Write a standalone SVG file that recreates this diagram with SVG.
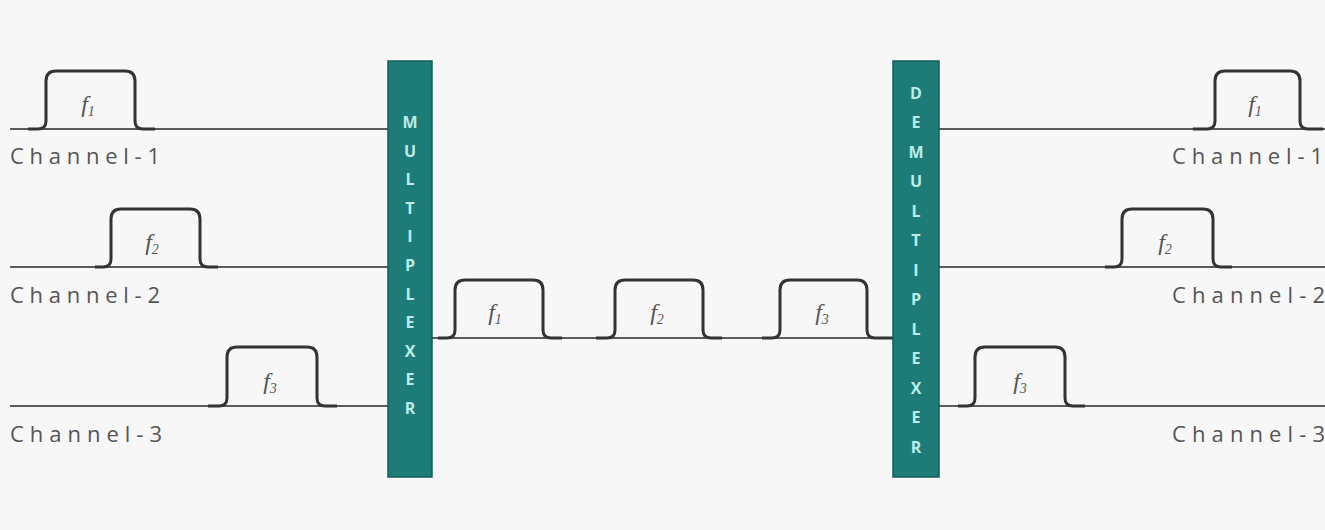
<svg xmlns="http://www.w3.org/2000/svg" width="1325" height="530" viewBox="0 0 1325 530">
<defs>
<style>
.bg{fill:#f7f7f7}
.line{stroke:#5a5a5a;stroke-width:2;fill:none}
.pulse{stroke:#333;stroke-width:3;fill:none;stroke-linejoin:round}
.bar{fill:#1d7c78;stroke:#155e5b;stroke-width:1.5}
.bl{font-family:"Open Sans","Liberation Sans",Arial,sans-serif;font-weight:bold;font-size:16px;fill:#bdece8;text-anchor:middle}
.ch{font-family:"Open Sans","Liberation Sans",Arial,sans-serif;font-size:22px;fill:#555}
.f{font-family:"Liberation Serif","Times New Roman",serif;font-style:italic;font-size:24px;fill:#555;text-anchor:middle}
.sub{font-size:14px}
</style>
</defs>
<rect class="bg" x="0" y="0" width="1325" height="530"/>
<g id="connectors">
<line class="line" x1="10" y1="129" x2="388" y2="129"/>
<line class="line" x1="10" y1="267" x2="388" y2="267"/>
<line class="line" x1="10" y1="406" x2="388" y2="406"/>
<line class="line" x1="432" y1="338" x2="893" y2="338"/>
<line class="line" x1="939" y1="129" x2="1325" y2="129"/>
<line class="line" x1="939" y1="267" x2="1325" y2="267"/>
<line class="line" x1="939" y1="406" x2="1325" y2="406"/>
</g>
<g id="pulse-in-1">
<path class="pulse" d="M28,129 L38,129 Q46,129 46,121 L46,81 Q46,71 56,71 L125,71 Q135,71 135,81 L135,121 Q135,129 143,129 L155,129"/>
<text class="f" x="88" y="112">f<tspan class="sub" dy="4">1</tspan></text>
</g>
<g id="pulse-in-2">
<path class="pulse" d="M95,267 L103,267 Q111,267 111,259 L111,219 Q111,209 121,209 L190,209 Q200,209 200,219 L200,259 Q200,267 208,267 L218,267"/>
<text class="f" x="152" y="250">f<tspan class="sub" dy="4">2</tspan></text>
</g>
<g id="pulse-in-3">
<path class="pulse" d="M208,406 L219,406 Q227,406 227,398 L227,357 Q227,347 237,347 L307,347 Q317,347 317,357 L317,398 Q317,406 325,406 L337,406"/>
<text class="f" x="270" y="389">f<tspan class="sub" dy="4">3</tspan></text>
</g>
<g id="pulse-mid-1">
<path class="pulse" d="M438,338 L447,338 Q455,338 455,330 L455,290 Q455,280 465,280 L533,280 Q543,280 543,290 L543,330 Q543,338 551,338 L562,338"/>
<text class="f" x="495" y="320">f<tspan class="sub" dy="4">1</tspan></text>
</g>
<g id="pulse-mid-2">
<path class="pulse" d="M596,338 L607,338 Q615,338 615,330 L615,290 Q615,280 625,280 L693,280 Q703,280 703,290 L703,330 Q703,338 711,338 L722,338"/>
<text class="f" x="657" y="320">f<tspan class="sub" dy="4">2</tspan></text>
</g>
<g id="pulse-mid-3">
<path class="pulse" d="M762,338 L772,338 Q780,338 780,330 L780,290 Q780,280 790,280 L857,280 Q867,280 867,290 L867,330 Q867,338 875,338 L893,338"/>
<text class="f" x="822" y="320">f<tspan class="sub" dy="4">3</tspan></text>
</g>
<g id="pulse-out-1">
<path class="pulse" d="M1193,129 L1207,129 Q1215,129 1215,121 L1215,81 Q1215,71 1225,71 L1290,71 Q1300,71 1300,81 L1300,121 Q1300,129 1308,129 L1323,129"/>
<text class="f" x="1255" y="112">f<tspan class="sub" dy="4">1</tspan></text>
</g>
<g id="pulse-out-2">
<path class="pulse" d="M1105,267 L1114,267 Q1122,267 1122,259 L1122,219 Q1122,209 1132,209 L1203,209 Q1213,209 1213,219 L1213,259 Q1213,267 1221,267 L1232,267"/>
<text class="f" x="1165" y="250">f<tspan class="sub" dy="4">2</tspan></text>
</g>
<g id="pulse-out-3">
<path class="pulse" d="M958,406 L967,406 Q975,406 975,398 L975,357 Q975,347 985,347 L1055,347 Q1065,347 1065,357 L1065,398 Q1065,406 1073,406 L1085,406"/>
<text class="f" x="1020" y="389">f<tspan class="sub" dy="4">3</tspan></text>
</g>
<g id="labels">
<text class="ch" x="10" y="164" textLength="150" lengthAdjust="spacing">Channel-1</text>
<text class="ch" x="10" y="303" textLength="150" lengthAdjust="spacing">Channel-2</text>
<text class="ch" x="10" y="442" textLength="152" lengthAdjust="spacing">Channel-3</text>
<text class="ch" x="1172" y="164" textLength="151" lengthAdjust="spacing">Channel-1</text>
<text class="ch" x="1172" y="303" textLength="153" lengthAdjust="spacing">Channel-2</text>
<text class="ch" x="1172" y="442" textLength="153" lengthAdjust="spacing">Channel-3</text>
</g>
<g id="multiplexer">
<rect class="bar" x="388" y="61" width="44" height="416"/>
<text class="bl" x="410" y="128">M</text>
<text class="bl" x="410" y="157">U</text>
<text class="bl" x="410" y="185">L</text>
<text class="bl" x="410" y="214">T</text>
<text class="bl" x="410" y="242">I</text>
<text class="bl" x="410" y="271">P</text>
<text class="bl" x="410" y="300">L</text>
<text class="bl" x="410" y="328">E</text>
<text class="bl" x="410" y="357">X</text>
<text class="bl" x="410" y="385">E</text>
<text class="bl" x="410" y="414">R</text>
</g>
<g id="demultiplexer">
<rect class="bar" x="893" y="61" width="46" height="416"/>
<text class="bl" x="916" y="99">D</text>
<text class="bl" x="916" y="128">E</text>
<text class="bl" x="916" y="158">M</text>
<text class="bl" x="916" y="187">U</text>
<text class="bl" x="916" y="217">L</text>
<text class="bl" x="916" y="246">T</text>
<text class="bl" x="916" y="276">I</text>
<text class="bl" x="916" y="305">P</text>
<text class="bl" x="916" y="335">L</text>
<text class="bl" x="916" y="364">E</text>
<text class="bl" x="916" y="394">X</text>
<text class="bl" x="916" y="423">E</text>
<text class="bl" x="916" y="453">R</text>
</g>
</svg>
